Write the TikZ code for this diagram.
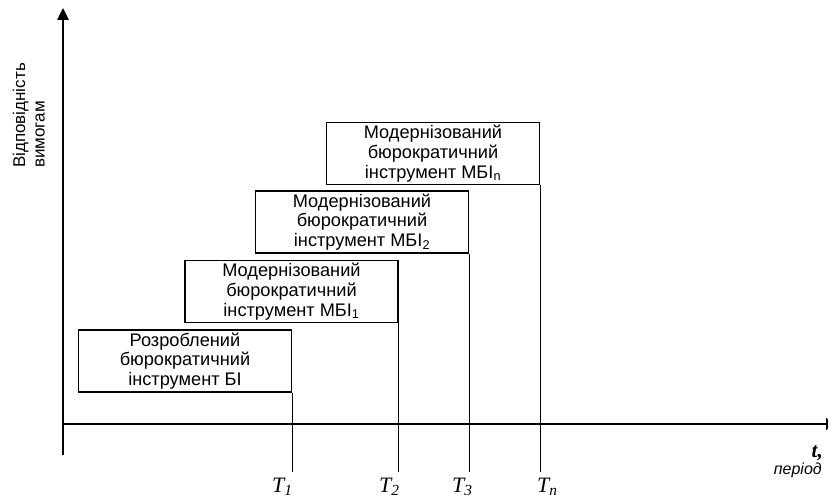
\documentclass[tikz,border=0pt]{standalone}
\usepackage{fontspec}
\setmainfont{Liberation Sans}
\newfontfamily\timesfont{Liberation Serif}
\usetikzlibrary{arrows.meta}
\tikzstyle{tool}=[draw,line width=1.2pt,minimum width=213pt,minimum height=62pt,align=center,inner sep=0pt,font=\fontsize{18.2}{19.8}\selectfont]
\tikzstyle{axis}=[line width=2.5pt]
\tikzstyle{Tline}=[line width=1.1pt]
\tikzstyle{Tlabel}=[anchor=base west,inner sep=0pt,font=\timesfont\itshape\fontsize{22}{24}\selectfont]
\newcommand{\axistip}{Triangle[length=12pt,width=11pt]}

\begin{document}
\begin{tikzpicture}[x=1pt,y=-1pt]
    \useasboundingbox (0,0) rectangle (828,495);
    % axes
    \coordinate (O) at (63,424);
    \coordinate (Ytop) at (63,8);
    \coordinate (Ybot) at (63,455);
    \coordinate (Xend) at (838,424);
    \draw[axis,-{\axistip}] (Ybot) -- (Ytop);
    \draw[axis,-{\axistip}] (O) -- (Xend);
    \node[rotate=90,anchor=base west,inner sep=0pt,align=left,font=\fontsize{17}{19.5}\selectfont] (ylab) at (44.5,168) {Відповідність\\вимогам};
    \node[anchor=base east,inner sep=0pt,font=\timesfont\bfseries\itshape\fontsize{21}{24}\selectfont] (tlab) at (823,457) {t,};
    \node[anchor=base east,inner sep=0pt,font=\itshape\fontsize{16}{18}\selectfont] (plab) at (822,474) {період};
    % tools
    \node[tool] (BI)   at (185,361)     {Розроблений\\бюрократичний\\інструмент БІ};
    \node[tool] (MBI1) at (291.5,291.5) {Модернізований\\бюрократичний\\інструмент МБІ\textsubscript{1}};
    \node[tool] (MBI2) at (362,222)     {Модернізований\\бюрократичний\\інструмент МБІ\textsubscript{2}};
    \node[tool] (MBIn) at (433,153.5)   {Модернізований\\бюрократичний\\інструмент МБІ\textsubscript{n}};
    % periods
    \coordinate (Tbase) at (0,472);
    \draw[Tline] (BI.south east)   -- (BI.south east |- Tbase);
    \draw[Tline] (MBI1.south east) -- (MBI1.south east |- Tbase);
    \draw[Tline] (MBI2.south east) -- (MBI2.south east |- Tbase);
    \draw[Tline] (MBIn.south east) -- (MBIn.south east |- Tbase);
    \node[Tlabel] (T1) at (272,492) {T\textsubscript{1}};
    \node[Tlabel] (T2) at (379,492) {T\textsubscript{2}};
    \node[Tlabel] (T3) at (452,492) {T\textsubscript{3}};
    \node[Tlabel] (Tn) at (537,492) {T\textsubscript{n}};
\end{tikzpicture}
\end{document}
